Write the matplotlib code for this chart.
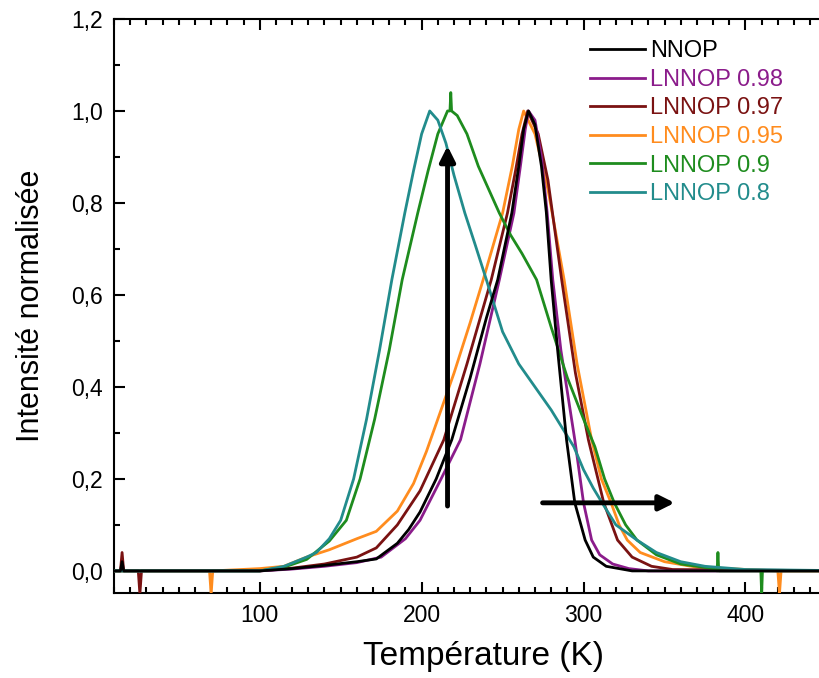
import matplotlib
matplotlib.use("Agg")
import matplotlib.pyplot as plt
from matplotlib.ticker import MultipleLocator, FuncFormatter

plt.rcParams["font.family"] = ["Liberation Sans", "DejaVu Sans"]

# values (temperature in K, normalised intensity)
T_nnop = [10, 14, 15, 16, 100, 120, 140, 160, 172, 185, 192, 199, 209, 218.6, 230, 240, 247,
          255.7, 260, 263, 266, 270, 274, 277, 280, 284, 289.5, 294.6, 301, 306, 314, 330, 470]
I_nnop = [0, 0, 0.02, 0, 0, 0.005, 0.012, 0.02, 0.026, 0.06, 0.09, 0.128, 0.2, 0.285, 0.42, 0.55, 0.633,
          0.778, 0.88, 0.96, 1.0, 0.97, 0.88, 0.78, 0.633, 0.48, 0.285, 0.148, 0.067, 0.03, 0.01, 0, 0]

T_098 = [10, 100, 120, 140, 160, 175, 190, 199, 212, 224, 236, 248, 257, 261, 264, 266,
         270, 274, 277.5, 281, 286, 294.6, 300, 305, 310, 318, 328, 340, 470]
I_098 = [0, 0, 0.004, 0.01, 0.018, 0.03, 0.07, 0.11, 0.2, 0.285, 0.45, 0.633, 0.778, 0.88, 0.96, 1.0,
         0.98, 0.9, 0.78, 0.633, 0.48, 0.285, 0.148, 0.067, 0.035, 0.015, 0.005, 0, 0]

T_097 = [10, 14, 15, 16, 25, 26, 27, 100, 120, 140, 160, 172, 185, 199, 213.7, 228, 243, 253, 258, 262,
         265.5, 272, 278, 286.5, 295, 303, 312.5, 321, 330, 342, 355, 470]
I_097 = [0, 0, 0.04, 0, 0, -0.05, 0, 0, 0.006, 0.015, 0.03, 0.05, 0.1, 0.174, 0.285, 0.45, 0.633, 0.778, 0.87, 0.95,
         1.0, 0.95, 0.85, 0.633, 0.43, 0.285, 0.148, 0.067, 0.03, 0.01, 0.003, 0]

T_095 = [10, 69, 70, 71, 100, 115, 129, 143, 160, 172, 185, 195, 203, 210, 220, 230, 238, 250, 256, 260,
         263, 270, 278, 288, 296, 305, 311, 317, 322, 327, 335, 350, 370, 420, 421, 422, 470]
I_095 = [0, 0, -0.05, 0, 0.005, 0.01, 0.03, 0.046, 0.07, 0.086, 0.13, 0.19, 0.26, 0.33, 0.43, 0.54, 0.633, 0.778, 0.88, 0.96,
         1.0, 0.95, 0.83, 0.633, 0.45, 0.285, 0.2, 0.148, 0.1, 0.067, 0.04, 0.02, 0.008, 0, -0.05, 0, 0]

T_09 = [10, 100, 115, 129, 143, 153.5, 162, 171, 180, 188, 197.6, 204, 210, 216, 217.5, 218, 218.5, 222, 228, 235,
        248, 255, 262, 271, 280, 290, 300, 307, 313, 319, 326, 333, 345, 360, 380, 382.5, 383, 383.5,
        409.5, 410, 410.5, 470]
I_09 = [0, 0, 0.008, 0.025, 0.065, 0.11, 0.2, 0.33, 0.48, 0.633, 0.778, 0.87, 0.95, 1.0, 1.0, 1.04, 1.0, 0.99, 0.95, 0.88,
        0.778, 0.73, 0.69, 0.633, 0.53, 0.42, 0.33, 0.27, 0.2, 0.148, 0.1, 0.067, 0.035, 0.015, 0.005, 0, 0.04, 0,
        0, -0.05, 0, 0]

T_08 = [10, 100, 115, 129, 135, 143, 150, 158, 166, 174, 181.6, 189.6, 195, 200, 205, 210, 215, 220, 226.7,
        233, 240, 250, 260, 270, 280, 287, 294, 300, 306, 312, 320, 333, 345, 360, 375, 400, 470]
I_08 = [0, 0, 0.01, 0.03, 0.04, 0.07, 0.11, 0.2, 0.33, 0.48, 0.633, 0.778, 0.87, 0.95, 1.0, 0.98, 0.93, 0.86, 0.778,
        0.71, 0.633, 0.52, 0.45, 0.40, 0.35, 0.31, 0.27, 0.22, 0.18, 0.145, 0.1, 0.067, 0.04, 0.02, 0.01, 0.003, 0]

series = [
    ("NNOP", T_nnop, I_nnop, "#000000", 10),
    ("LNNOP 0.98", T_098, I_098, "#8B1C8B", 5),
    ("LNNOP 0.97", T_097, I_097, "#7A1212", 4),
    ("LNNOP 0.95", T_095, I_095, "#FF8C1E", 3),
    ("LNNOP 0.9", T_09, I_09, "#1E8C1E", 6),
    ("LNNOP 0.8", T_08, I_08, "#228C8C", 7),
]

fig = plt.figure(figsize=(8.2, 6.78), dpi=100)
# the original figure is cropped on the right, so the axes run past the edge
ax = fig.add_axes([0.139, 0.1254, 0.9024, 0.8466])

for label, t, y, c, z in series:
    ax.plot(t, y, color=c, lw=2.0, label=label, zorder=z)

# arrows
ax.annotate("", xy=(216, 0.93), xytext=(216, 0.135),
            arrowprops=dict(arrowstyle="-|>,head_width=0.45,head_length=0.9", lw=3.5, color="k"), zorder=20)
ax.annotate("", xy=(358, 0.148), xytext=(273, 0.148),
            arrowprops=dict(arrowstyle="-|>,head_width=0.45,head_length=0.9", lw=3.5, color="k"), zorder=20)

ax.set_xlim(10, 467)
ax.set_ylim(-0.048, 1.2)
ax.xaxis.set_major_locator(MultipleLocator(100))
ax.xaxis.set_minor_locator(MultipleLocator(10))
ax.yaxis.set_major_locator(MultipleLocator(0.2))
ax.yaxis.set_minor_locator(MultipleLocator(0.1))
ax.yaxis.set_major_formatter(FuncFormatter(lambda v, p: f"{v:.1f}".replace(".", ",")))
ax.tick_params(which="both", direction="in", top=True, right=False, width=1.5, labelsize=16.5)
ax.tick_params(which="major", length=8, pad=8)
ax.tick_params(which="minor", length=4)
ax.spines["right"].set_visible(False)
for s in ("left", "bottom", "top"):
    ax.spines[s].set_linewidth(1.5)

ax.set_xlabel("Température (K)", fontsize=24, labelpad=10)
ax.set_ylabel("Intensité normalisée", fontsize=22, labelpad=18)

leg = ax.legend(loc="upper left", bbox_to_anchor=(0.643, 0.963), frameon=False, fontsize=17,
                handlelength=2.35, handletextpad=0.2, labelspacing=0.28, borderaxespad=0, borderpad=0)
for txt, (_, _, _, c, _) in zip(leg.get_texts(), series):
    txt.set_color(c)

fig.savefig("out.png", dpi=100)
